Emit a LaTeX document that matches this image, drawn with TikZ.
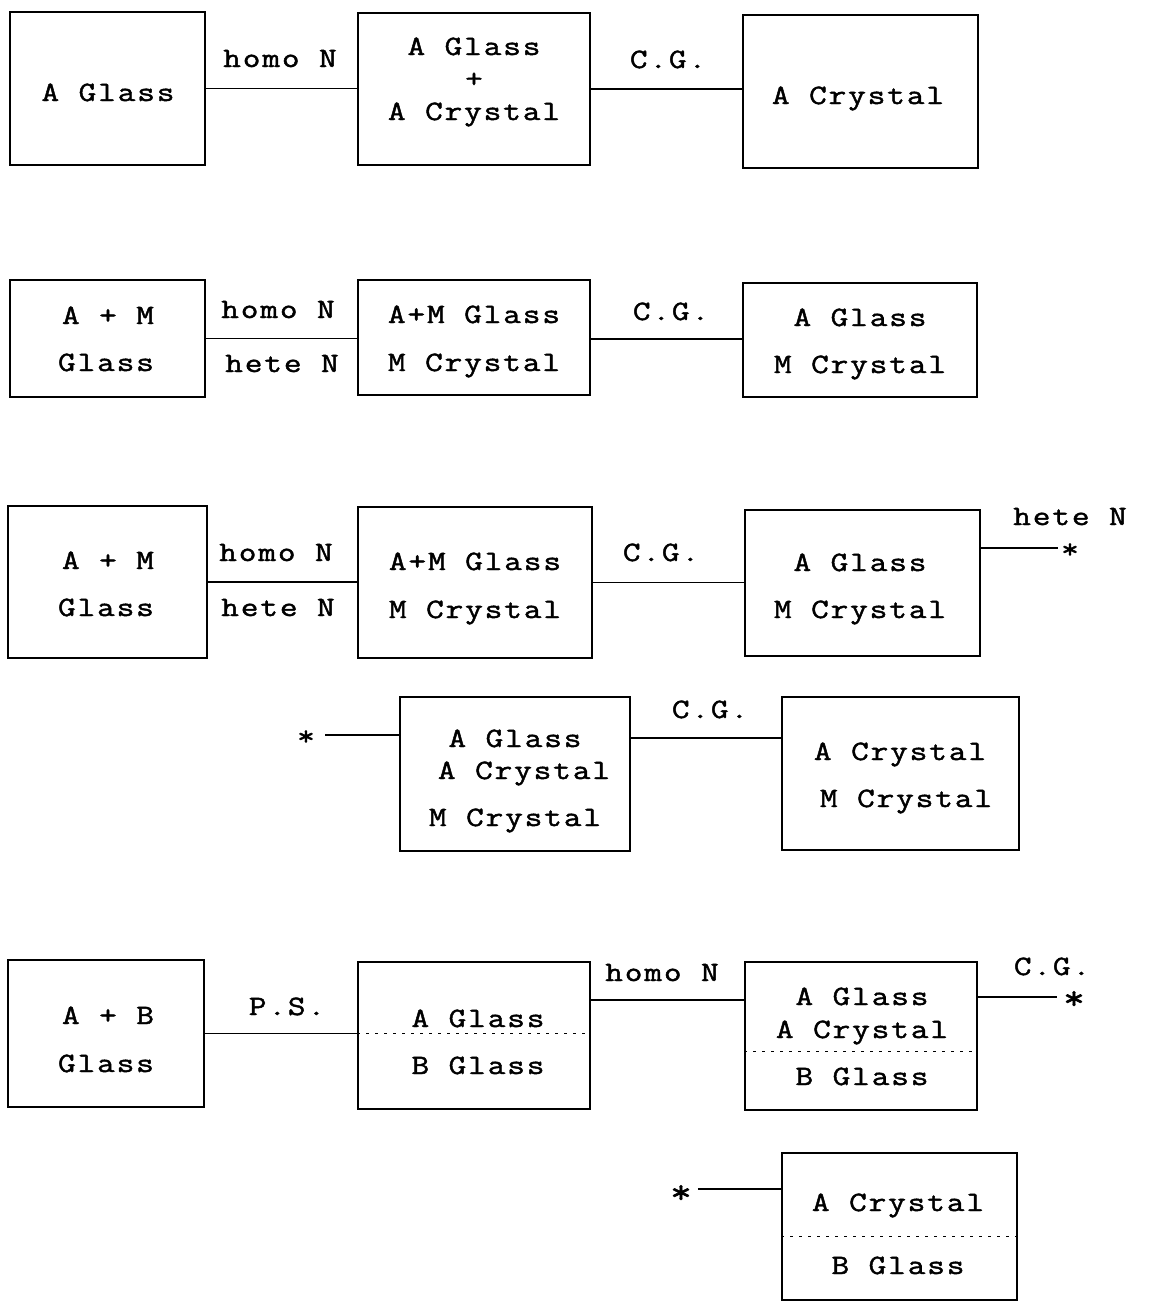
\documentclass[tikz,border=0pt]{standalone}
\usepackage{fontspec}
\newfontfamily\tw[FakeStretch=1.22,LetterSpace=7,FakeBold=1.6]{Latin Modern Mono}
\begin{document}
\begin{tikzpicture}[x=1pt,y=-1pt,
  box/.style={draw, line width=1.3pt, inner sep=0pt},
  txt/.style={font=\tw\fontsize{28}{32}\selectfont, inner sep=0pt, anchor=base},
  ast/.style={font=\tw\fontsize{34}{38}\selectfont, inner sep=0pt, anchor=base},
  conn/.style={line width=1.3pt},
  sep/.style={line width=0.7pt, dash pattern=on 3pt off 6pt}]
\useasboundingbox (0,0) rectangle (1151,1301);
% ---------- row 1
\node[box, minimum width=195, minimum height=153] (a1) at (107.5,88.5) {};
\node[box, minimum width=232, minimum height=152] (a2) at (474,89) {};
\node[box, minimum width=235, minimum height=153] (a3) at (860.5,91.5) {};
\node[txt] (a1t) at (108,101) {A Glass};
\node[txt] (a2t1) at (474,55) {A Glass};
\node[font=\tw\fontsize{28}{32}\selectfont, inner sep=0pt] (a2t2) at (474,80) {+};
\node[txt] (a2t3) at (474,120) {A Crystal};
\node[txt] (a3t) at (858,104) {A Crystal};
\draw[conn] (a1.east) -- (a2.west |- a1.east);
\draw[conn] (a2.east) -- (a3.west |- a2.east);
\node[txt] (l1a) at (280,67) {homo N};
\node[txt] (l1b) at (668,68) {C.G.};
% ---------- row 2
\node[box, minimum width=195, minimum height=117] (b1) at (107.5,338.5) {};
\node[box, minimum width=232, minimum height=115] (b2) at (474,337.5) {};
\node[box, minimum width=234, minimum height=114] (b3) at (860,340) {};
\node[txt] (b1t1) at (108,324) {A + M};
\node[txt] (b1t2) at (106,371) {Glass};
\node[txt] (b2t1) at (474,323) {A+M Glass};
\node[txt] (b2t2) at (474,371) {M Crystal};
\node[txt] (b3t1) at (860,326) {A Glass};
\node[txt] (b3t2) at (860,373) {M Crystal};
\draw[conn] (b1.east) -- (b2.west |- b1.east);
\draw[conn] (b2.east |- 0,339) -- (b3.west |- 0,339);
\node[txt] (l2a) at (278,318) {homo N};
\node[txt] (l2b) at (282,372) {hete N};
\node[txt] (l2c) at (671,320) {C.G.};
% ---------- row 3
\node[box, minimum width=199, minimum height=152] (c1) at (107.5,582) {};
\node[box, minimum width=234, minimum height=151] (c2) at (475,582.5) {};
\node[box, minimum width=235, minimum height=146] (c3) at (862.5,583) {};
\node[txt] (c1t1) at (108,569) {A + M};
\node[txt] (c1t2) at (106,616) {Glass};
\node[txt] (c2t1) at (475,570) {A+M Glass};
\node[txt] (c2t2) at (475,618) {M Crystal};
\node[txt] (c3t1) at (860,571) {A Glass};
\node[txt] (c3t2) at (860,618) {M Crystal};
\draw[conn] (c1.east) -- (c2.west |- c1.east);
\draw[conn] (c2.east) -- (c3.west |- c2.east);
\node[txt] (l3a) at (276,561) {homo N};
\node[txt] (l3b) at (278,616) {hete N};
\node[txt] (l3c) at (661,561) {C.G.};
\node[txt] (l3d) at (1070,525) {hete N};
\node[txt] (s3) at (1070,558) {*};
\draw[conn, shorten >=3pt] (c3.east |- 0,548) -- (s3.west |- 0,548);
% ---------- row 4
\node[box, minimum width=230, minimum height=154] (d1) at (515,774) {};
\node[box, minimum width=237, minimum height=153] (d2) at (900.5,773.5) {};
\node[txt] (d1t1) at (515,747) {A Glass};
\node[txt] (d1t2) at (524,779) {A Crystal};
\node[txt] (d1t3) at (515,826) {M Crystal};
\node[txt] (d2t1) at (900,760) {A Crystal};
\node[txt] (d2t2) at (906,807) {M Crystal};
\node[txt] (s4) at (306,745) {*};
\draw[conn, shorten <=10pt] (s4.east |- 0,735) -- (d1.west |- 0,735);
\draw[conn] (d1.east |- 0,738) -- (d2.west |- 0,738);
\node[txt] (l4a) at (710,718) {C.G.};
% ---------- row 5
\node[box, minimum width=196, minimum height=147] (e1) at (106,1033.5) {};
\node[box, minimum width=232, minimum height=147] (e2) at (474,1035.5) {};
\node[box, minimum width=232, minimum height=148] (e3) at (861,1036) {};
\node[txt] (e1t1) at (108,1024) {A + B};
\node[txt] (e1t2) at (106,1072) {Glass};
\node[txt] (e2t1) at (478,1027) {A Glass};
\node[txt] (e2t2) at (478,1074) {B Glass};
\node[txt] (e3t1) at (862,1005) {A Glass};
\node[txt] (e3t2) at (862,1038) {A Crystal};
\node[txt] (e3t3) at (862,1085) {B Glass};
\draw[sep] (e2.west |- 0,1033) -- (e2.east |- 0,1033);
\draw[sep] (e3.west |- 0,1051) -- (e3.east |- 0,1051);
\draw[conn] (e1.east) -- (e2.west |- e1.east);
\draw[conn] (e2.east |- 0,1000) -- (e3.west |- 0,1000);
\node[txt] (l5a) at (287,1015) {P.S.};
\node[txt] (l5b) at (662,981) {homo N};
\node[txt] (l5c) at (1052,975) {C.G.};
\node[ast] (s5) at (1074,1009) {*};
\draw[conn, shorten >=6pt] (e3.east |- 0,997) -- (s5.west |- 0,997);
% ---------- row 6
\node[box, minimum width=235, minimum height=147] (f) at (899.5,1226.5) {};
\node[txt] (ft1) at (898,1211) {A Crystal};
\node[txt] (ft2) at (898,1274) {B Glass};
\draw[sep] (f.west |- 0,1236) -- (f.east |- 0,1236);
\node[ast] (s6) at (681,1203) {*};
\draw[conn, shorten <=6pt] (s6.east |- 0,1189) -- (f.west |- 0,1189);
\end{tikzpicture}
\end{document}
